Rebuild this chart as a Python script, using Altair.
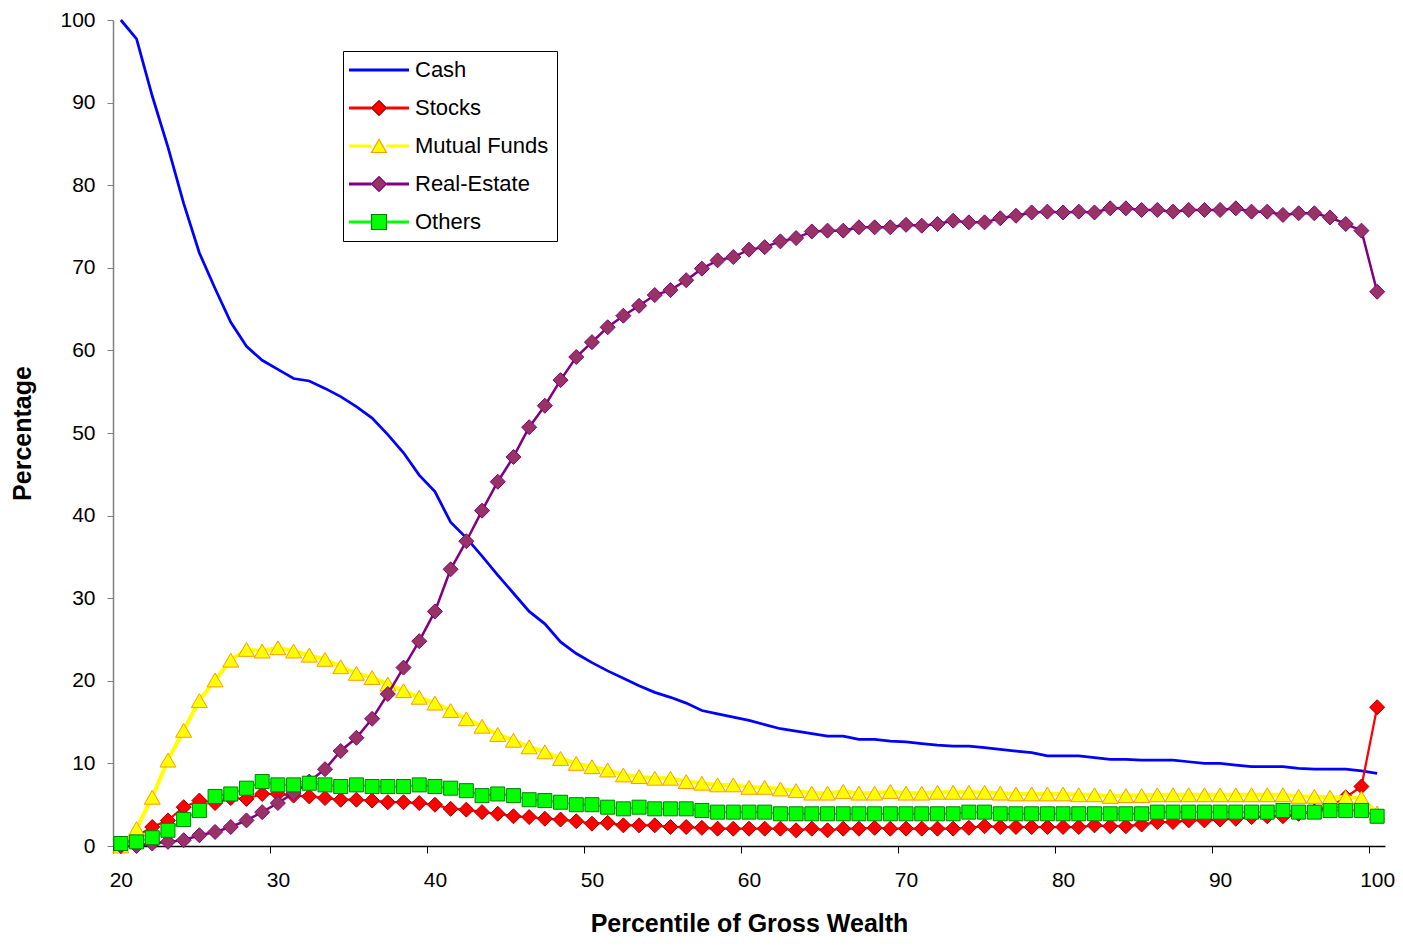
import altair as alt
import pandas as pd

# ---------------- data ----------------
percentiles = list(range(20, 101))
series_names = ["Cash", "Stocks", "Mutual Funds", "Real-Estate", "Others"]

cash = [100.0, 97.7, 90.8, 84.6, 77.8, 71.8, 67.5, 63.4, 60.5, 58.8,
        57.7, 56.6, 56.3, 55.4, 54.4, 53.2, 51.8, 49.8, 47.6, 44.9,
        42.9, 39.2, 37.3, 35.1, 32.8, 30.6, 28.4, 26.9, 24.7, 23.3,
        22.2, 21.2, 20.3, 19.4, 18.6, 18.0, 17.3, 16.4, 16.0, 15.6,
        15.2, 14.7, 14.2, 13.9, 13.6, 13.3, 13.3, 12.9, 12.9, 12.7,
        12.6, 12.4, 12.2, 12.1, 12.1, 11.9, 11.7, 11.5, 11.3, 10.9,
        10.9, 10.9, 10.7, 10.5, 10.5, 10.4, 10.4, 10.4, 10.2, 10.0,
        10.0, 9.8, 9.6, 9.6, 9.6, 9.4, 9.3, 9.3, 9.3, 9.1, 8.8]

stocks = [0.0, 1.2, 2.3, 3.1, 4.7, 5.5, 5.2, 5.8, 5.7, 6.3,
          6.3, 6.1, 6.0, 5.8, 5.6, 5.6, 5.5, 5.3, 5.3, 5.2,
          5.0, 4.5, 4.4, 4.1, 3.9, 3.6, 3.5, 3.3, 3.2, 3.0,
          2.7, 2.8, 2.5, 2.5, 2.5, 2.3, 2.3, 2.2, 2.1, 2.1,
          2.1, 2.1, 2.1, 1.9, 2.1, 1.9, 2.1, 2.1, 2.2, 2.1,
          2.1, 2.1, 2.1, 2.1, 2.2, 2.4, 2.3, 2.3, 2.3, 2.3,
          2.3, 2.3, 2.5, 2.4, 2.4, 2.6, 2.9, 2.9, 3.1, 3.1,
          3.2, 3.3, 3.5, 3.6, 3.6, 3.9, 4.2, 4.7, 5.9, 7.2, 16.8]

mutual_funds = [0.0, 2.1, 5.9, 10.4, 14.0, 17.6, 20.1, 22.5, 23.8, 23.6,
                24.0, 23.6, 23.1, 22.6, 21.7, 20.9, 20.4, 19.6, 18.8, 18.0,
                17.3, 16.4, 15.4, 14.5, 13.5, 12.8, 12.0, 11.4, 10.6, 10.0,
                9.6, 9.2, 8.6, 8.4, 8.2, 8.2, 7.8, 7.6, 7.4, 7.4,
                7.1, 7.1, 6.9, 6.7, 6.4, 6.4, 6.6, 6.4, 6.4, 6.6,
                6.4, 6.4, 6.5, 6.5, 6.5, 6.5, 6.4, 6.3, 6.3, 6.3,
                6.3, 6.2, 6.2, 6.0, 6.1, 6.1, 6.2, 6.2, 6.2, 6.2,
                6.2, 6.2, 6.2, 6.2, 6.2, 6.0, 6.0, 5.9, 5.9, 5.8, 4.0]

real_estate = [0.0, 0.0, 0.3, 0.5, 0.7, 1.3, 1.7, 2.3, 3.1, 4.1,
               5.2, 6.4, 7.8, 9.3, 11.5, 13.1, 15.4, 18.4, 21.6, 24.8,
               28.4, 33.5, 36.9, 40.6, 44.1, 47.1, 50.7, 53.3, 56.4, 59.2,
               61.0, 62.8, 64.2, 65.4, 66.7, 67.3, 68.5, 69.9, 70.9, 71.3,
               72.2, 72.5, 73.2, 73.6, 74.4, 74.5, 74.5, 74.9, 74.9, 74.9,
               75.2, 75.1, 75.3, 75.7, 75.5, 75.5, 76.0, 76.3, 76.7, 76.8,
               76.7, 76.8, 76.7, 77.2, 77.2, 77.0, 77.0, 76.8, 77.0, 77.0,
               77.0, 77.2, 76.8, 76.8, 76.4, 76.6, 76.6, 76.1, 75.3, 74.5, 67.1]

others = [0.3, 0.5, 1.0, 1.9, 3.2, 4.3, 6.0, 6.3, 7.0, 7.8,
          7.4, 7.4, 7.6, 7.4, 7.2, 7.4, 7.2, 7.2, 7.2, 7.4,
          7.2, 7.0, 6.7, 6.1, 6.3, 6.1, 5.6, 5.5, 5.3, 5.0,
          5.0, 4.7, 4.5, 4.7, 4.5, 4.5, 4.5, 4.3, 4.1, 4.1,
          4.1, 4.1, 3.9, 3.9, 3.9, 3.9, 3.9, 3.9, 3.9, 3.9,
          3.9, 3.9, 3.9, 3.9, 4.1, 4.1, 3.9, 3.9, 3.9, 3.9,
          3.9, 3.9, 3.9, 3.9, 3.9, 3.9, 4.1, 4.1, 4.1, 4.1,
          4.1, 4.1, 4.1, 4.1, 4.3, 4.1, 4.1, 4.3, 4.3, 4.3, 3.6]

x_label_values = [20, 30, 40, 50, 60, 70, 80, 90, 100]
y_tick_values = [0, 10, 20, 30, 40, 50, 60, 70, 80, 90, 100]

# ---------------- table ----------------
series_values = [cash, stocks, mutual_funds, real_estate, others]
rows = []
for name, vals in zip(series_names, series_values):
    assert len(vals) == len(percentiles)
    for p, v in zip(percentiles, vals):
        rows.append({"pct": p, "series": name, "value": v})
df = pd.DataFrame(rows)

# ---------------- styles ----------------
FONT = "Liberation Sans"
line_color = {"Cash": "#0000FF", "Stocks": "#FF0000", "Mutual Funds": "#FFFF00",
              "Real-Estate": "#800080", "Others": "#00FF00"}
line_width = {"Cash": 2.75, "Stocks": 2.25, "Mutual Funds": 4.0,
              "Real-Estate": 2.5, "Others": 2.25}
marker = {
    "Stocks": ("diamond", 225, "#FF0000", "#A00000"),
    "Mutual Funds": ("triangle-up", 256, "#FFFF00", "#FF9900"),
    "Real-Estate": ("diamond", 225, "#993366", "#800080"),
    "Others": ("square", 196, "#00FF00", "#008000"),
}

# category-centred ticks: ticks half a category left of each labelled value
x_tick_positions = [v - 0.5 for v in x_label_values]

x_enc = alt.X(
    "pct:Q",
    scale=alt.Scale(domain=[19.5, 100.5], nice=False, zero=False),
    axis=alt.Axis(values=x_tick_positions,
                  labelExpr="format(datum.value + 0.5, 'd')",
                  labelOffset=7.85, tickSize=7, labelPadding=16,
                  labelFontSize=21, labelFont=FONT, labelColor="black",
                  titleFontSize=25, titleFont=FONT, titleFontWeight="bold",
                  titleColor="black", titlePadding=21,
                  domainColor="black", tickColor="black", domainWidth=1.5,
                  labelFlush=False, grid=False),
    title="Percentile of Gross Wealth",
)
y_enc = alt.Y(
    "value:Q",
    scale=alt.Scale(domain=[0, 100], nice=False),
    axis=alt.Axis(values=y_tick_values, format="d", tickSize=6, labelPadding=12,
                  labelFontSize=21, labelFont=FONT, labelColor="black",
                  titleFontSize=25, titleFont=FONT, titleFontWeight="bold",
                  titleColor="black", titlePadding=24,
                  domainColor="#808080", tickColor="#808080", domainWidth=1.5,
                  labelFlush=False, grid=False),
    title="Percentage",
)

base = alt.Chart(df)
layers = []
for name in series_names:
    sub = base.transform_filter(alt.datum.series == name)
    layers.append(sub.mark_line(color=line_color[name], strokeWidth=line_width[name])
                  .encode(x=x_enc, y=y_enc))
    if name in marker:
        shp, sz, fill, stroke = marker[name]
        layers.append(sub.mark_point(shape=shp, size=sz, filled=True, fill=fill,
                                     stroke=stroke, strokeWidth=1, opacity=1)
                      .encode(x=x_enc, y=y_enc))

# ---------------- legend (two overlaid native legends: lines + markers) ----------------
legend_common = dict(orient="none", legendX=230, legendY=31, padding=8,
                     rowPadding=16, symbolSize=225, symbolOffset=17,
                     labelOffset=25, labelFontSize=22, labelFont=FONT,
                     labelColor="black", title=None)
leg_lines = alt.Legend(strokeColor="black", symbolStrokeWidth=3, **legend_common)
leg_marks = alt.Legend(symbolStrokeWidth=1.2, labelExpr="''", **legend_common)

line_paths = ["M-4,0L4,0"] + ["M-4,0L-1,0M1,0L4,0"] * 4
legend_lines = base.transform_filter("false").mark_point(filled=False, opacity=1).encode(
    stroke=alt.Stroke("series:N", scale=alt.Scale(domain=series_names,
                      range=[line_color[n] for n in series_names]), legend=leg_lines),
    shape=alt.Shape("series:N", scale=alt.Scale(domain=series_names, range=line_paths),
                    legend=leg_lines),
)

mk_shapes = ["circle"] + [marker[n][0] for n in series_names[1:]]
mk_fills = ["transparent"] + [marker[n][2] for n in series_names[1:]]
mk_strokes = ["transparent"] + [marker[n][3] for n in series_names[1:]]
legend_marks = base.transform_filter("false").mark_point(filled=True, opacity=1).encode(
    fill=alt.Fill("series:N", scale=alt.Scale(domain=series_names, range=mk_fills),
                  legend=leg_marks),
    stroke=alt.Stroke("series:N", scale=alt.Scale(domain=series_names, range=mk_strokes),
                      legend=leg_marks),
    shape=alt.Shape("series:N", scale=alt.Scale(domain=series_names, range=mk_shapes),
                    legend=leg_marks),
)

chart = (
    alt.layer(*layers, legend_lines, legend_marks)
    .resolve_scale(stroke="independent", shape="independent", fill="independent")
    .properties(width=1272, height=826,
                view=alt.ViewBackground(stroke="transparent", strokeWidth=0),
                autosize=alt.AutoSizeParams(type="none"),
                padding={"left": 105, "top": 12, "right": 10, "bottom": 94})
    .configure_view(stroke="transparent", strokeWidth=0)
    .configure(background="white")
)

chart.save("out.html", embed_options={"renderer": "svg", "actions": False})
